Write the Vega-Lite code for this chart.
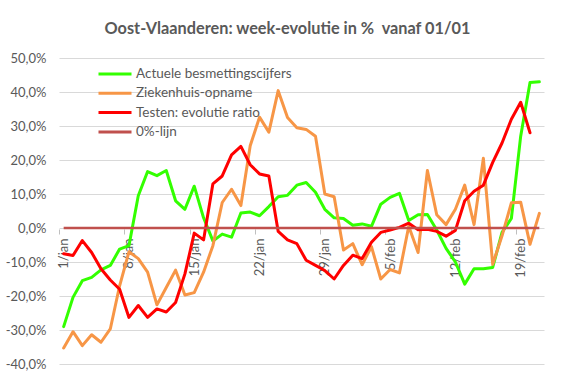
{
  "$schema": "https://vega.github.io/schema/vega-lite/v6.json",
  "autosize": {"type": "none"},
  "width": 485,
  "height": 306,
  "padding": {"left": 59, "top": 58, "right": 37, "bottom": 12},
  "background": "white",
  "config": {
    "view": {"stroke": null},
    "font": "Lato"
  },
  "title": {
    "text": "Oost-Vlaanderen: week-evolutie in % \u00a0vanaf 01/01",
    "frame": "group",
    "anchor": "middle",
    "font": "Lato",
    "fontSize": 16.3,
    "fontWeight": "bold",
    "color": "#595959",
    "baseline": "alphabetic",
    "offset": 2,
    "dx": -14
  },
  "data": {
    "values": [
      {"d": "1/jan", "Actuele besmettingscijfers": -29, "Ziekenhuis-opname": -35.3, "Testen: evolutie ratio": -7.6, "0%-lijn": 0},
      {"d": "2/jan", "Actuele besmettingscijfers": -20.4, "Ziekenhuis-opname": -30.5, "Testen: evolutie ratio": -8.1, "0%-lijn": 0},
      {"d": "3/jan", "Actuele besmettingscijfers": -15.5, "Ziekenhuis-opname": -34.6, "Testen: evolutie ratio": -3.7, "0%-lijn": 0},
      {"d": "4/jan", "Actuele besmettingscijfers": -14.5, "Ziekenhuis-opname": -31.4, "Testen: evolutie ratio": -7.2, "0%-lijn": 0},
      {"d": "5/jan", "Actuele besmettingscijfers": -12.3, "Ziekenhuis-opname": -33.6, "Testen: evolutie ratio": -12, "0%-lijn": 0},
      {"d": "6/jan", "Actuele besmettingscijfers": -11, "Ziekenhuis-opname": -29.7, "Testen: evolutie ratio": -15.3, "0%-lijn": 0},
      {"d": "7/jan", "Actuele besmettingscijfers": -6.2, "Ziekenhuis-opname": -17, "Testen: evolutie ratio": -18, "0%-lijn": 0},
      {"d": "8/jan", "Actuele besmettingscijfers": -5.2, "Ziekenhuis-opname": -7, "Testen: evolutie ratio": -26.3, "0%-lijn": 0},
      {"d": "9/jan", "Actuele besmettingscijfers": 9.5, "Ziekenhuis-opname": -9, "Testen: evolutie ratio": -22.8, "0%-lijn": 0},
      {"d": "10/jan", "Actuele besmettingscijfers": 16.6, "Ziekenhuis-opname": -13, "Testen: evolutie ratio": -26.3, "0%-lijn": 0},
      {"d": "11/jan", "Actuele besmettingscijfers": 15.4, "Ziekenhuis-opname": -22.6, "Testen: evolutie ratio": -23.8, "0%-lijn": 0},
      {"d": "12/jan", "Actuele besmettingscijfers": 16.9, "Ziekenhuis-opname": -17.5, "Testen: evolutie ratio": -24.7, "0%-lijn": 0},
      {"d": "13/jan", "Actuele besmettingscijfers": 8, "Ziekenhuis-opname": -12.4, "Testen: evolutie ratio": -21.9, "0%-lijn": 0},
      {"d": "14/jan", "Actuele besmettingscijfers": 5.5, "Ziekenhuis-opname": -19.7, "Testen: evolutie ratio": -13.5, "0%-lijn": 0},
      {"d": "15/jan", "Actuele besmettingscijfers": 12.3, "Ziekenhuis-opname": -19, "Testen: evolutie ratio": -1.5, "0%-lijn": 0},
      {"d": "16/jan", "Actuele besmettingscijfers": 3, "Ziekenhuis-opname": -13, "Testen: evolutie ratio": -3.5, "0%-lijn": 0},
      {"d": "17/jan", "Actuele besmettingscijfers": -3.8, "Ziekenhuis-opname": -5.2, "Testen: evolutie ratio": 13, "0%-lijn": 0},
      {"d": "18/jan", "Actuele besmettingscijfers": -1.8, "Ziekenhuis-opname": 7.5, "Testen: evolutie ratio": 15.3, "0%-lijn": 0},
      {"d": "19/jan", "Actuele besmettingscijfers": -2.7, "Ziekenhuis-opname": 11.4, "Testen: evolutie ratio": 21.5, "0%-lijn": 0},
      {"d": "20/jan", "Actuele besmettingscijfers": 4.4, "Ziekenhuis-opname": 6.6, "Testen: evolutie ratio": 24, "0%-lijn": 0},
      {"d": "21/jan", "Actuele besmettingscijfers": 4.7, "Ziekenhuis-opname": 24.2, "Testen: evolutie ratio": 18.6, "0%-lijn": 0},
      {"d": "22/jan", "Actuele besmettingscijfers": 3.6, "Ziekenhuis-opname": 32.6, "Testen: evolutie ratio": 15.9, "0%-lijn": 0},
      {"d": "23/jan", "Actuele besmettingscijfers": 6.3, "Ziekenhuis-opname": 28.2, "Testen: evolutie ratio": 15.3, "0%-lijn": 0},
      {"d": "24/jan", "Actuele besmettingscijfers": 9.2, "Ziekenhuis-opname": 40.4, "Testen: evolutie ratio": -1, "0%-lijn": 0},
      {"d": "25/jan", "Actuele besmettingscijfers": 9.6, "Ziekenhuis-opname": 32.5, "Testen: evolutie ratio": -3.5, "0%-lijn": 0},
      {"d": "26/jan", "Actuele besmettingscijfers": 12.6, "Ziekenhuis-opname": 29.5, "Testen: evolutie ratio": -4.6, "0%-lijn": 0},
      {"d": "27/jan", "Actuele besmettingscijfers": 13.4, "Ziekenhuis-opname": 29, "Testen: evolutie ratio": -9.5, "0%-lijn": 0},
      {"d": "28/jan", "Actuele besmettingscijfers": 10.5, "Ziekenhuis-opname": 27, "Testen: evolutie ratio": -11, "0%-lijn": 0},
      {"d": "29/jan", "Actuele besmettingscijfers": 5.5, "Ziekenhuis-opname": 10, "Testen: evolutie ratio": -12.5, "0%-lijn": 0},
      {"d": "30/jan", "Actuele besmettingscijfers": 3, "Ziekenhuis-opname": 9.2, "Testen: evolutie ratio": -15, "0%-lijn": 0},
      {"d": "31/jan", "Actuele besmettingscijfers": 2.8, "Ziekenhuis-opname": -6.5, "Testen: evolutie ratio": -11, "0%-lijn": 0},
      {"d": "1/feb", "Actuele besmettingscijfers": 0.8, "Ziekenhuis-opname": -4.6, "Testen: evolutie ratio": -8, "0%-lijn": 0},
      {"d": "2/feb", "Actuele besmettingscijfers": 1.2, "Ziekenhuis-opname": -10.8, "Testen: evolutie ratio": -9, "0%-lijn": 0},
      {"d": "3/feb", "Actuele besmettingscijfers": 0.5, "Ziekenhuis-opname": -5.5, "Testen: evolutie ratio": -4.2, "0%-lijn": 0},
      {"d": "4/feb", "Actuele besmettingscijfers": 7, "Ziekenhuis-opname": -15, "Testen: evolutie ratio": -1.3, "0%-lijn": 0},
      {"d": "5/feb", "Actuele besmettingscijfers": 9, "Ziekenhuis-opname": -12.2, "Testen: evolutie ratio": -0.6, "0%-lijn": 0},
      {"d": "6/feb", "Actuele besmettingscijfers": 10.2, "Ziekenhuis-opname": -13.2, "Testen: evolutie ratio": 0.2, "0%-lijn": 0},
      {"d": "7/feb", "Actuele besmettingscijfers": 2.2, "Ziekenhuis-opname": 0.5, "Testen: evolutie ratio": 1.4, "0%-lijn": 0},
      {"d": "8/feb", "Actuele besmettingscijfers": 3.9, "Ziekenhuis-opname": -7.2, "Testen: evolutie ratio": -0.5, "0%-lijn": 0},
      {"d": "9/feb", "Actuele besmettingscijfers": 4, "Ziekenhuis-opname": 16.9, "Testen: evolutie ratio": -0.4, "0%-lijn": 0},
      {"d": "10/feb", "Actuele besmettingscijfers": -0.6, "Ziekenhuis-opname": 3.9, "Testen: evolutie ratio": -1, "0%-lijn": 0},
      {"d": "11/feb", "Actuele besmettingscijfers": -6, "Ziekenhuis-opname": 1, "Testen: evolutie ratio": -2.4, "0%-lijn": 0},
      {"d": "12/feb", "Actuele besmettingscijfers": -10, "Ziekenhuis-opname": 5.5, "Testen: evolutie ratio": -0.7, "0%-lijn": 0},
      {"d": "13/feb", "Actuele besmettingscijfers": -16.5, "Ziekenhuis-opname": 12.6, "Testen: evolutie ratio": 8, "0%-lijn": 0},
      {"d": "14/feb", "Actuele besmettingscijfers": -12, "Ziekenhuis-opname": 1, "Testen: evolutie ratio": 10.8, "0%-lijn": 0},
      {"d": "15/feb", "Actuele besmettingscijfers": -12, "Ziekenhuis-opname": 20.5, "Testen: evolutie ratio": 12.6, "0%-lijn": 0},
      {"d": "16/feb", "Actuele besmettingscijfers": -11.6, "Ziekenhuis-opname": -10.7, "Testen: evolutie ratio": 19.3, "0%-lijn": 0},
      {"d": "17/feb", "Actuele besmettingscijfers": -1.3, "Ziekenhuis-opname": -2.3, "Testen: evolutie ratio": 25, "0%-lijn": 0},
      {"d": "18/feb", "Actuele besmettingscijfers": 2.8, "Ziekenhuis-opname": 7.4, "Testen: evolutie ratio": 32, "0%-lijn": 0},
      {"d": "19/feb", "Actuele besmettingscijfers": 27, "Ziekenhuis-opname": 7.6, "Testen: evolutie ratio": 37, "0%-lijn": 0},
      {"d": "20/feb", "Actuele besmettingscijfers": 42.8, "Ziekenhuis-opname": -4.8, "Testen: evolutie ratio": 28, "0%-lijn": 0},
      {"d": "21/feb", "Actuele besmettingscijfers": 43, "Ziekenhuis-opname": 4.3, "Testen: evolutie ratio": null, "0%-lijn": 0}
    ]
  },
  "encoding": {
    "x": {
      "field": "d",
      "type": "ordinal",
      "sort": null,
      "scale": {"type": "point", "padding": 0.5},
      "axis": {
        "title": null,
        "values": ["1/jan", "8/jan", "15/jan", "22/jan", "29/jan", "5/feb", "12/feb", "19/feb"],
        "offset": -135,
        "domain": false,
        "ticks": true,
        "tickSize": 5,
        "tickColor": "#BFBFBF",
        "tickOffset": -4.67,
        "labelOffset": 4.67,
        "labelAngle": -90,
        "labelAlign": "right",
        "labelBaseline": "middle",
        "labelPadding": 4,
        "labelFont": "Lato",
        "labelFontSize": 13,
        "labelColor": "#595959",
        "grid": false
      }
    },
    "y": {
      "field": "pct",
      "type": "quantitative",
      "scale": {"domain": [-40, 50], "nice": false, "zero": false},
      "axis": {
        "title": null,
        "values": [-40, -30, -20, -10, 0, 10, 20, 30, 40, 50],
        "labelExpr": "(datum.value < 0 ? '-' : '') + replace(format(abs(datum.value), '.1f'), '.', ',') + '%'",
        "domain": false,
        "ticks": false,
        "labelPadding": 13,
        "labelFont": "Lato",
        "labelFontSize": 13,
        "labelColor": "#595959",
        "grid": true,
        "gridColor": "#D9D9D9",
        "gridWidth": 1
      }
    },
    "color": {
      "field": "series",
      "type": "nominal",
      "scale": {
        "domain": ["Actuele besmettingscijfers", "Ziekenhuis-opname", "Testen: evolutie ratio", "0%-lijn"],
        "range": ["#33FF00", "#F79646", "#FF0000", "#C0504D"]
      },
      "legend": {
        "title": null,
        "orient": "none",
        "legendX": 38,
        "legendY": 8,
        "symbolType": "stroke",
        "symbolSize": 1089,
        "symbolStrokeWidth": 3,
        "clipHeight": 16,
        "rowPadding": 3.3,
        "labelOffset": 3,
        "labelFont": "Lato",
        "labelFontSize": 13.5,
        "labelColor": "#595959",
        "padding": 0
      }
    }
  },
  "layer": [
    {
      "transform": [{"fold": ["Actuele besmettingscijfers", "Ziekenhuis-opname", "Testen: evolutie ratio"], "as": ["series", "pct"]}],
      "mark": {"type": "line", "strokeWidth": 3, "strokeJoin": "round", "strokeCap": "round"}
    },
    {
      "transform": [{"fold": ["0%-lijn"], "as": ["series", "pct"]}],
      "mark": {"type": "line", "strokeWidth": 2.5}
    }
  ]
}
